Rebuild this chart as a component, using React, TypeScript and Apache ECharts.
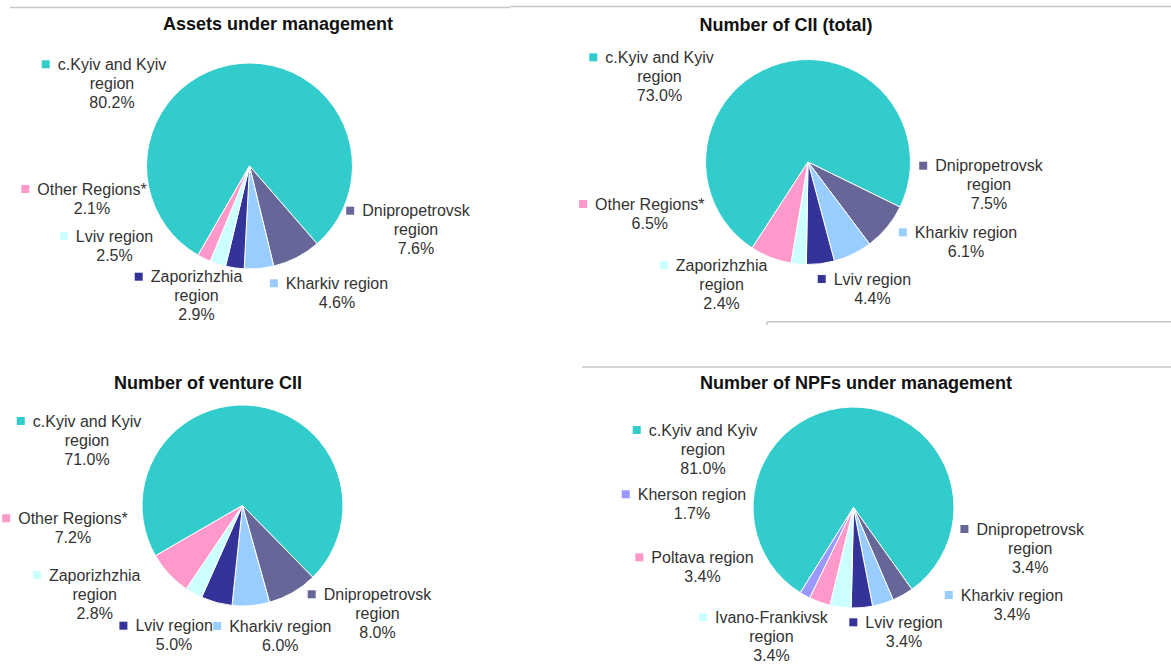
import React, { useEffect, useRef } from "react";
import * as echarts from "echarts";

const FONT = "'Liberation Sans', Arial, Helvetica, sans-serif";
const PALETTE = ["#33CCCC", "#666699", "#99CCFF", "#333399", "#CCFFFF", "#FF99CC", "#9999FF"];

// ---- data ----
const titles = [
  "Assets under management",
  "Number of CII (total)",
  "Number of venture CII",
  "Number of NPFs under management",
];

const aumNames = ["c.Kyiv and Kyiv\nregion", "Dnipropetrovsk\nregion", "Kharkiv region", "Zaporizhzhia\nregion", "Lviv region", "Other Regions*"];
const aumValues = [80.2, 7.6, 4.6, 2.9, 2.5, 2.1];

const ciiNames = ["c.Kyiv and Kyiv\nregion", "Dnipropetrovsk\nregion", "Kharkiv region", "Lviv region", "Zaporizhzhia\nregion", "Other Regions*"];
const ciiValues = [73.0, 7.5, 6.1, 4.4, 2.4, 6.5];

const ventureNames = ["c.Kyiv and Kyiv\nregion", "Dnipropetrovsk\nregion", "Kharkiv region", "Lviv region", "Zaporizhzhia\nregion", "Other Regions*"];
const ventureValues = [71.0, 8.0, 6.0, 5.0, 2.8, 7.2];

const npfNames = ["c.Kyiv and Kyiv\nregion", "Dnipropetrovsk\nregion", "Kharkiv region", "Lviv region", "Ivano-Frankivsk\nregion", "Poltava region", "Kherson region"];
const npfValues = [81.0, 3.4, 3.4, 3.4, 3.4, 3.4, 1.7];

// ---- layout (positions, not data) ----
const PIES = [
  { center: [249.5, 166], radius: 103, startAngle: 240 },
  { center: [808, 162], radius: 102.5, startAngle: 237 },
  { center: [242.5, 505.5], radius: 100.5, startAngle: 210 },
  { center: [853.5, 507.5], radius: 100.5, startAngle: 238 },
];
const TITLE_POS = [
  [278, 24],
  [786, 25],
  [208, 383],
  [856, 383],
];
const LABEL_POS = [
  [[112, 64.3], [416, 210.7], [337, 283.3], [196.5, 276.7], [114.5, 236], [92, 189]],
  [[659.5, 57.3], [989, 165.7], [966, 232.3], [872.4, 279], [721.6, 265], [649.8, 204]],
  [[87, 421], [377.5, 594.3], [280.3, 626], [174.1, 625.7], [94.7, 575], [72.9, 518.3]],
  [[703, 430], [1030.2, 529], [1011.9, 595], [904, 622.3], [771.4, 617.3], [702.5, 557.3], [692, 494.3]],
];

const SETS = [
  { names: aumNames, values: aumValues },
  { names: ciiNames, values: ciiValues },
  { names: ventureNames, values: ventureValues },
  { names: npfNames, values: npfValues },
];

const LINE_COLOR = "#c8c8c8";

export default function App() {
  const ref = useRef<HTMLDivElement>(null);

  useEffect(() => {
    if (!ref.current) return;
    const chart = echarts.init(ref.current, undefined, { renderer: "svg", width: 1171, height: 671 });

    const rich: Record<string, any> = {
      t: { fontSize: 16, lineHeight: 19, color: "#333333", fontFamily: FONT },
      g: { width: 8 },
      s: { width: 16 },
    };
    PALETTE.forEach((c, i) => {
      rich["m" + i] = { width: 8, height: 8, backgroundColor: c, verticalAlign: "middle" };
    });

    const series = SETS.map((set, k) => ({
      type: "pie",
      center: PIES[k].center,
      radius: PIES[k].radius,
      startAngle: PIES[k].startAngle,
      clockwise: true,
      avoidLabelOverlap: false,
      silent: true,
      itemStyle: { borderColor: "#ffffff", borderWidth: 1 },
      emphasis: { disabled: true },
      labelLine: { show: false },
      label: {
        show: true,
        position: "outside",
        rich,
        formatter: (p: any) => {
          const lines = String(p.name).split("\n");
          const pct = Number(p.value).toFixed(1) + "%";
          const out = lines.map((l, i) =>
            i === 0 ? `{m${p.dataIndex}|}{g|}{t|${l}}{s|}` : `{t|${l}}`
          );
          out.push(`{t|${pct}}`);
          return out.join("\n");
        },
      },
      labelLayout: (p: any) => {
        const q = LABEL_POS[k][p.dataIndex];
        return { x: q[0], y: q[1] - 9.5, align: "center", verticalAlign: "top" };
      },
      data: set.names.map((n, i) => ({
        name: n,
        value: set.values[i],
        itemStyle: { color: PALETTE[i] },
      })),
    }));

    const graphic: any[] = [
      { type: "line", shape: { x1: 10, y1: 7.5, x2: 510, y2: 7.5 }, style: { stroke: LINE_COLOR, lineWidth: 1.5 } },
      { type: "line", shape: { x1: 510, y1: 6.5, x2: 1171, y2: 6.5 }, style: { stroke: LINE_COLOR, lineWidth: 1.5 } },
      { type: "line", shape: { x1: 767, y1: 321.7, x2: 1171, y2: 321.7 }, style: { stroke: LINE_COLOR, lineWidth: 1.5 } },
      { type: "line", shape: { x1: 767, y1: 321.7, x2: 767, y2: 325 }, style: { stroke: LINE_COLOR, lineWidth: 1.5 } },
      { type: "line", shape: { x1: 582, y1: 367, x2: 1171, y2: 367 }, style: { stroke: LINE_COLOR, lineWidth: 1.5 } },
    ];
    titles.forEach((t, i) => {
      graphic.push({
        type: "text",
        x: TITLE_POS[i][0],
        y: TITLE_POS[i][1],
        style: {
          text: t,
          fill: "#111111",
          font: `bold 18px ${FONT}`,
          align: "center",
          verticalAlign: "middle",
        },
      });
    });

    chart.setOption({
      animation: false,
      backgroundColor: "#ffffff",
      series,
      graphic,
    });

    return () => chart.dispose();
  }, []);

  return (
    <div
      ref={ref}
      style={{ position: "fixed", left: 0, top: 0, width: 1171, height: 671, background: "#fff" }}
    />
  );
}
